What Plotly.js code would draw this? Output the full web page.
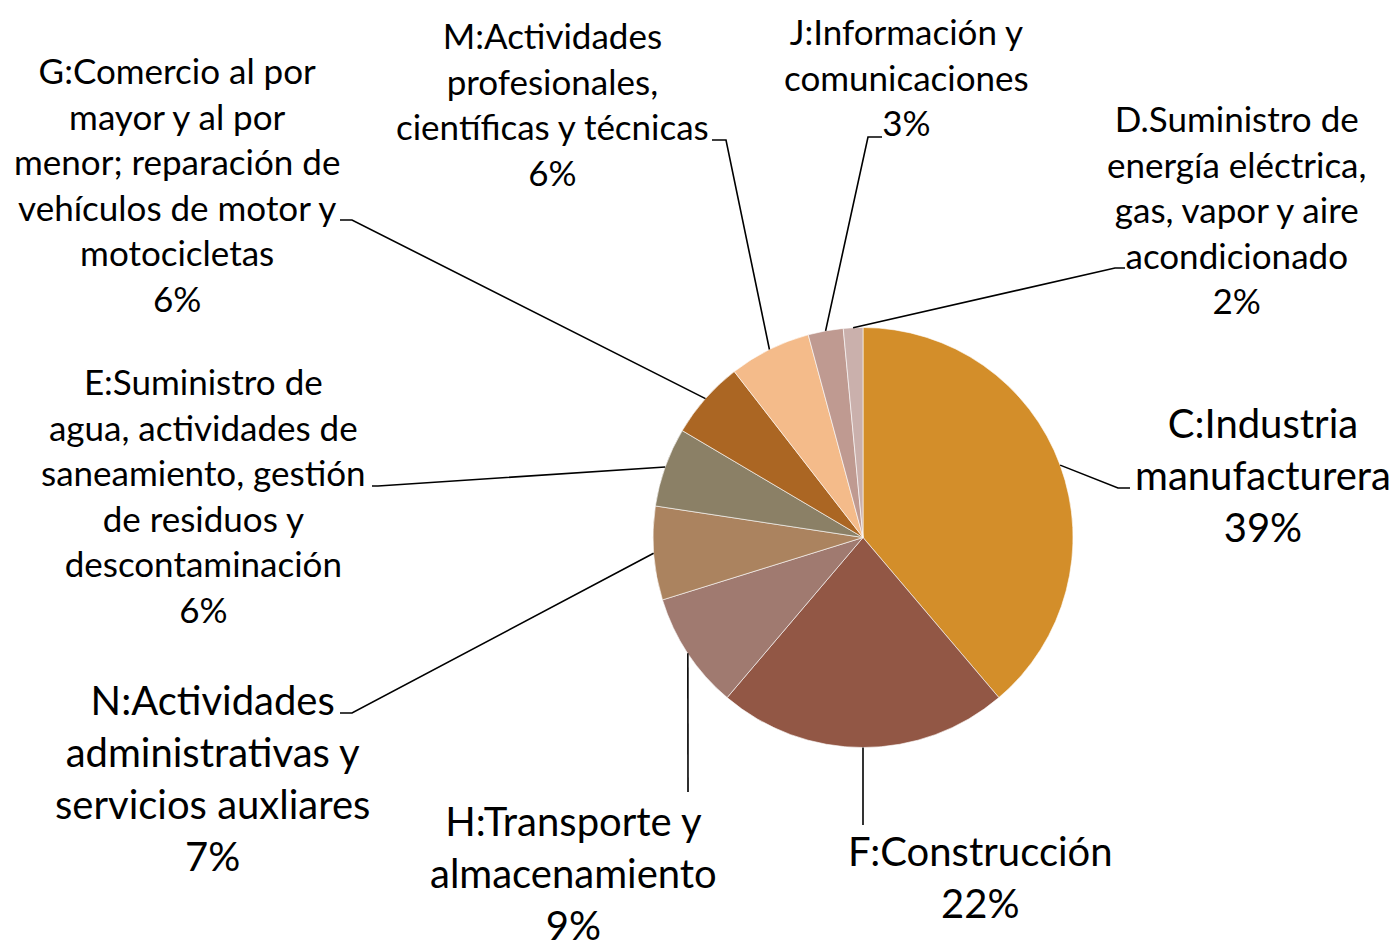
<!DOCTYPE html>
<html><head><meta charset="utf-8">
<script src="https://cdn.plot.ly/plotly-3.0.1.min.js"></script>
<style>html,body{margin:0;padding:0;background:#fff}</style>
</head><body><div id="chart" style="width:1399px;height:951px"></div>
<script>
// ---- data ----
const categories = [
  "C:Industria manufacturera",
  "F:Construcción",
  "H:Transporte y almacenamiento",
  "N:Actividades administrativas y servicios auxliares",
  "E:Suministro de agua, actividades de saneamiento, gestión de residuos y descontaminación",
  "G:Comercio al por mayor y al por menor; reparación de vehículos de motor y motocicletas",
  "M:Actividades profesionales, científicas y técnicas",
  "J:Información y comunicaciones",
  "D.Suministro de energía eléctrica, gas, vapor y aire acondicionado"
];
const labelLines = [
  ["C:Industria", "manufacturera"],
  ["F:Construcción"],
  ["H:Transporte y", "almacenamiento"],
  ["N:Actividades", "administrativas y", "servicios auxliares"],
  ["E:Suministro de", "agua, actividades de", "saneamiento, gestión", "de residuos y", "descontaminación"],
  ["G:Comercio al por", "mayor y al por", "menor; reparación de", "vehículos de motor y", "motocicletas"],
  ["M:Actividades", "profesionales,", "científicas y técnicas"],
  ["J:Información y", "comunicaciones"],
  ["D.Suministro de", "energía eléctrica,", "gas, vapor y aire", "acondicionado"]
];
const values = [38.8, 22.4, 9.0, 7.2, 6.1, 6.0, 6.3, 2.7, 1.5];

// ---- styles / layout ----
const colors = ["#D38E2A", "#925745", "#A07A70", "#AB835F", "#8B8066", "#AB6623", "#F4BB8A", "#BF9A91", "#CAB0AC"];
const W = 1399, H = 951;
const CX = 863, CY = 537.5, R = 210;
const BIG = 40, SMALL = 35;
// label block placement (pixel), text size, leader elbow and end (pixel)
const labelPos = [
  {x: 1263, y: 475, size: BIG,   elbow: [1118, 488], end: [1130, 488]},
  {x: 980,  y: 877, size: BIG,   elbow: [863, 825],  end: [863, 825]},
  {x: 573,  y: 873, size: BIG,   elbow: [688, 792],  end: [688, 792]},
  {x: 212,  y: 778, size: BIG,   elbow: [352, 713],  end: [340, 713]},
  {x: 203,  y: 495, size: SMALL, elbow: [378, 486],  end: [372, 486]},
  {x: 177,  y: 184, size: SMALL, elbow: [352, 220],  end: [340, 220]},
  {x: 552,  y: 103, size: SMALL, elbow: [726, 140],  end: [712, 140]},
  {x: 906,  y: 77,  size: SMALL, elbow: [868, 137],  end: [882, 137]},
  {x: 1236, y: 209, size: SMALL, elbow: [1115, 268], end: [1125, 268]}
];

const px = x => x / W;
const py = y => 1 - y / H;

const total = values.reduce((a, b) => a + b, 0);
let cum = 0;
const shapes = [], annotations = [];
values.forEach((v, i) => {
  const mid = (cum + v / 2) / total * 2 * Math.PI;
  cum += v;
  const ex = CX + R * Math.sin(mid), ey = CY - R * Math.cos(mid);
  const L = labelPos[i];
  shapes.push({
    type: "path", xref: "paper", yref: "paper",
    path: `M ${px(ex)},${py(ey)} L ${px(L.elbow[0])},${py(L.elbow[1])} L ${px(L.end[0])},${py(L.end[1])}`,
    line: {color: "#000", width: 1.6}
  });
  const pct = Math.round(v / total * 100) + "%";
  annotations.push({
    xref: "paper", yref: "paper", x: px(L.x), y: py(L.y),
    xanchor: "center", yanchor: "middle", align: "center", showarrow: false,
    text: labelLines[i].concat([pct]).join("<br>"),
    font: {family: "Lato, 'Open Sans', sans-serif", size: L.size, color: "#000"}
  });
});

const data = [{
  type: "pie",
  labels: categories,
  values: values,
  sort: false,
  direction: "clockwise",
  rotation: 0,
  textinfo: "none",
  hoverinfo: "label+percent",
  marker: {colors: colors, line: {color: "rgba(255,255,255,0.6)", width: 1}},
  domain: {x: [(CX - R) / W, (CX + R) / W], y: [1 - (CY + R) / H, 1 - (CY - R) / H]},
  showlegend: false
}];

const layout = {
  width: W, height: H,
  margin: {l: 0, r: 0, t: 0, b: 0},
  paper_bgcolor: "#fff",
  showlegend: false,
  shapes: shapes,
  annotations: annotations
};
Plotly.newPlot("chart", data, layout, {staticPlot: true});
</script></body></html>
